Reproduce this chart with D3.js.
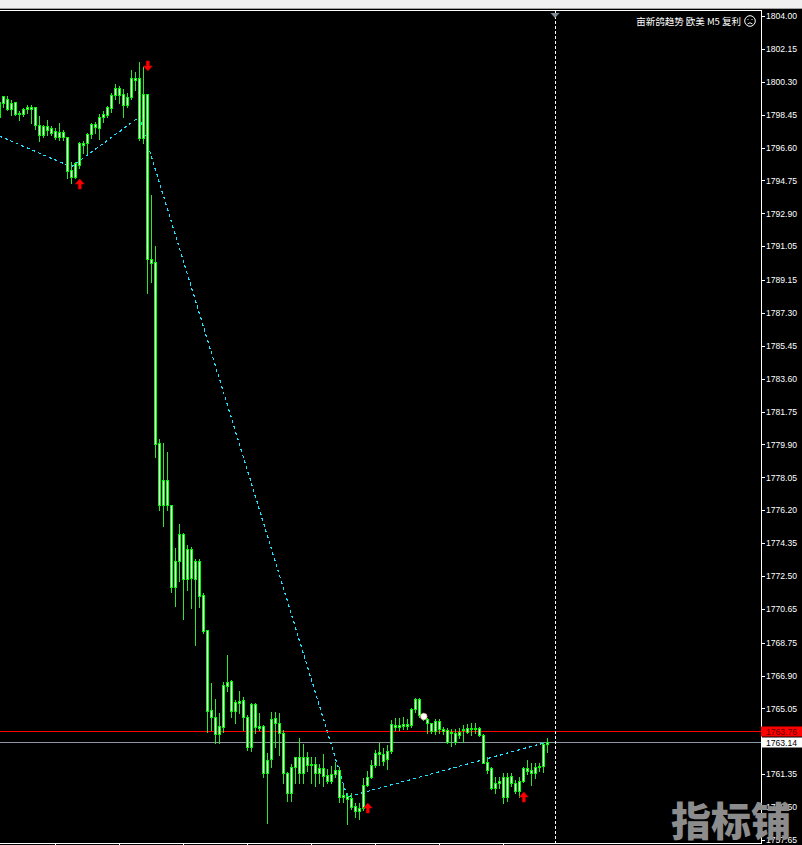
<!DOCTYPE html>
<html><head><meta charset="utf-8">
<script src="https://cdn.jsdelivr.net/npm/d3@7"></script>
<style>html,body{margin:0;padding:0;background:#000;overflow:hidden}</style>
</head><body>
<svg id="chart" width="802" height="845"></svg>
<script>
// ---- data (EURUSD M5 candles) ----
const opens = [1798.32,1799.11,1799.33,1798.77,1799.16,1798.49,1798.49,1798.77,1798.88,1798.88,
1797.87,1797.31,1797.81,1797.70,1797.53,1797.19,1797.48,1797.19,1795.34,1794.94,
1795.62,1796.86,1796.86,1797.36,1797.93,1797.70,1798.32,1798.43,1798.83,1799.56,
1799.95,1799.61,1798.99,1799.44,1800.51,1800.51,1797.14,1799.61,1790.33,1790.16,
1779.98,1776.49,1777.90,1776.49,1771.88,1773.34,1774.86,1772.33,1774.02,1772.33,
1773.34,1771.43,1769.46,1764.96,1764.57,1763.61,1764.01,1766.31,1766.59,1764.91,
1765.36,1765.53,1764.57,1762.88,1765.30,1763.95,1764.06,1761.42,1762.21,1764.51,
1764.23,1763.67,1761.42,1760.29,1761.76,1762.32,1761.42,1762.32,1761.87,1761.93,
1761.42,1761.70,1761.31,1760.97,1761.36,1761.59,1760.07,1760.13,1760.01,1759.56,
1759.28,1759.45,1760.74,1761.19,1761.87,1762.49,1762.49,1762.21,1762.66,1764.12,
1764.01,1764.06,1764.18,1764.12,1765.02,1765.58,1764.68,1764.46,1764.23,1763.78,
1764.34,1763.89,1763.84,1763.67,1763.67,1763.56,1763.84,1763.73,1763.95,1763.89,
1763.95,1763.56,1762.04,1761.70,1760.58,1760.86,1761.19,1760.07,1761.25,1760.86,
1760.41,1760.97,1761.70,1761.59,1761.42,1761.76,1761.81,1763.05];
const highs = [1799.44,1799.50,1799.50,1799.28,1799.16,1798.66,1798.83,1798.99,1798.99,1798.88,
1798.38,1797.87,1798.15,1797.81,1797.70,1797.98,1797.59,1797.19,1795.79,1795.79,
1796.91,1796.97,1797.42,1797.98,1798.04,1798.49,1798.66,1798.94,1799.67,1800.18,
1800.06,1799.89,1799.67,1800.96,1800.85,1801.41,1801.13,1799.61,1793.93,1791.06,
1780.21,1779.98,1779.48,1776.49,1774.08,1775.43,1774.92,1774.24,1774.13,1773.46,
1773.46,1771.54,1769.46,1766.48,1765.58,1764.79,1766.54,1768.06,1766.65,1765.53,
1766.03,1765.69,1764.68,1765.36,1765.36,1764.79,1764.12,1762.54,1764.85,1764.85,
1764.79,1763.84,1761.48,1761.93,1762.32,1763.39,1763.05,1762.60,1762.32,1762.32,
1761.93,1762.49,1761.64,1761.81,1762.04,1761.76,1760.74,1760.29,1760.29,1759.73,
1759.73,1761.14,1761.53,1762.15,1762.71,1763.11,1762.83,1762.99,1764.40,1764.51,
1764.51,1764.57,1764.46,1765.08,1765.64,1765.64,1764.79,1764.51,1764.23,1764.46,
1764.46,1764.01,1763.95,1763.89,1763.89,1763.95,1764.12,1764.18,1764.23,1764.23,
1764.01,1763.61,1762.32,1761.76,1761.19,1761.19,1761.42,1761.42,1761.42,1761.03,
1761.19,1761.76,1762.15,1761.98,1761.98,1761.98,1763.16,1763.39];
const lows = [1798.26,1798.88,1798.71,1798.43,1798.43,1798.15,1798.38,1798.54,1797.98,1797.64,
1796.97,1797.19,1797.31,1797.31,1797.08,1797.03,1797.03,1794.89,1794.61,1794.89,
1795.45,1796.29,1796.29,1797.14,1797.42,1797.08,1798.04,1798.32,1798.60,1799.33,
1799.11,1798.32,1798.88,1799.33,1799.84,1797.03,1796.86,1788.42,1789.04,1779.19,
1776.21,1775.31,1776.21,1771.60,1770.81,1772.22,1770.08,1771.71,1770.70,1768.62,
1770.76,1769.29,1763.73,1763.84,1763.11,1763.11,1763.73,1766.03,1764.57,1764.23,
1764.79,1763.84,1762.71,1762.66,1763.67,1763.84,1761.19,1758.61,1761.76,1762.88,
1762.43,1760.86,1759.84,1759.84,1760.86,1760.86,1760.86,1761.53,1760.86,1760.69,
1760.86,1760.69,1760.86,1760.86,1761.19,1759.79,1759.79,1758.55,1759.39,1758.94,
1758.83,1759.34,1760.69,1761.14,1761.76,1761.87,1761.87,1761.64,1762.54,1763.84,
1763.84,1763.89,1763.89,1764.01,1764.85,1764.57,1764.40,1763.67,1763.67,1763.61,
1763.67,1763.61,1763.11,1762.94,1763.05,1763.39,1763.16,1763.67,1763.56,1763.67,
1763.50,1761.98,1761.42,1760.52,1760.29,1760.58,1759.73,1759.84,1760.69,1760.29,
1760.07,1760.91,1761.36,1760.74,1761.14,1761.53,1761.48,1762.60];
const closes = [1799.16,1799.50,1798.77,1799.11,1798.49,1798.54,1798.77,1798.88,1798.77,1797.87,
1797.31,1797.81,1797.59,1797.42,1797.19,1797.48,1797.19,1795.28,1794.94,1795.73,
1796.86,1796.74,1797.36,1797.93,1797.76,1798.32,1798.49,1798.88,1799.56,1799.95,
1799.56,1798.99,1799.44,1800.51,1800.40,1797.14,1799.61,1790.33,1790.11,1779.93,
1776.49,1777.90,1776.49,1771.88,1773.34,1774.86,1772.33,1774.02,1772.39,1773.34,
1771.38,1769.41,1764.91,1764.57,1763.61,1764.06,1766.37,1766.54,1764.91,1765.41,
1765.47,1764.57,1762.88,1765.30,1764.01,1764.06,1761.42,1762.15,1764.46,1764.23,
1763.67,1761.42,1760.29,1761.76,1762.32,1761.42,1762.32,1761.87,1761.93,1761.42,
1761.70,1761.25,1760.97,1761.36,1761.59,1760.07,1760.18,1759.96,1759.51,1759.28,
1759.45,1760.74,1761.19,1761.87,1762.54,1762.60,1762.09,1762.66,1764.18,1764.01,
1764.12,1764.18,1764.06,1765.02,1765.58,1764.68,1764.46,1764.23,1763.78,1764.34,
1763.89,1763.78,1763.16,1763.73,1763.16,1763.73,1763.89,1763.95,1763.89,1763.95,
1763.56,1761.98,1761.59,1760.58,1760.86,1760.97,1760.07,1761.19,1760.86,1760.41,
1760.97,1761.70,1761.53,1761.42,1761.76,1761.81,1763.05,1763.14];

const yTickValues = [1804.00,1802.15,1800.30,1798.45,1796.60,1794.75,1792.90,1791.05,1789.15,1787.30,
1785.45,1783.60,1781.75,1779.90,1778.05,1776.20,1774.35,1772.50,1770.65,1768.75,1766.90,1765.05,
1761.35,1759.50,1757.65];
const yTickLabels = ["1804.00","1802.15","1800.30","1798.45","1796.60","1794.75","1792.90","1791.05","1789.15","1787.30",
"1785.45","1783.60","1781.75","1779.90","1778.05","1776.20","1774.35","1772.50","1770.65","1768.75","1766.90","1765.05",
"1761.35","1759.50","1757.65"];
const xTickBars = [14,30,46,62,78,94,110,126];
const askPrice = 1763.76, bidPrice = 1763.14;
const zigzagBars = [0,18,35,87,137];
const zigzagPrices = [1797.25,1795.51,1798.32,1760.07,1763.16];
const upArrowBars = [20,92,131];
const upArrowPrices = [1794.83,1759.73,1760.35];
const downArrowBars = [37];
const downArrowPrices = [1800.91];
const dotBars = [106];
const dotPrices = [1764.60];
const shiftBar = 139;
const titleText = "亩新鸽趋势 欧美 M5 复利";
const watermarkText = "指标铺";

// ---- drawing ----
const W = 802, H = 845;
const plotRight = 761, plotTop = 10, plotBottom = 843;
const svg = d3.select("#chart");
const x = d3.scaleLinear().domain([0, 1]).range([-0.7, 3.3]);
const y = d3.scaleLinear().domain([1757.65, 1804.00]).range([840, 16]);
const px = v => Math.round(x(v));
const py = v => Math.round(y(v));

svg.append("rect").attr("width", W).attr("height", H).attr("fill", "#000");
svg.append("rect").attr("x",0).attr("y",0).attr("width",W).attr("height",8).attr("fill","#f0f0f0");
svg.append("rect").attr("x",0).attr("y",8).attr("width",W).attr("height",1).attr("fill","#a0a0a0");

const plot = svg.append("g").attr("shape-rendering","crispEdges");
plot.append("defs").append("clipPath").attr("id","clip")
  .append("rect").attr("x",0).attr("y",plotTop+1).attr("width",plotRight).attr("height",plotBottom-plotTop-1);
const inner = plot.append("g").attr("clip-path","url(#clip)");

// zigzag dotted line
const zz = zigzagBars.map((b,i)=>[b, zigzagPrices[i]]);
inner.append("path")
  .attr("d", d3.line().x(d=>x(d[0])).y(d=>y(d[1]))(zz))
  .attr("fill","none").attr("stroke","#22e0ff").attr("stroke-width",1.2)
  .attr("stroke-dasharray","3,3").attr("shape-rendering","crispEdges");

// ask / bid lines
inner.append("line").attr("x1",0).attr("x2",plotRight).attr("y1",py(askPrice)+0.5).attr("y2",py(askPrice)+0.5)
  .attr("stroke","#ff0000");
inner.append("line").attr("x1",0).attr("x2",plotRight).attr("y1",py(bidPrice)+0.5).attr("y2",py(bidPrice)+0.5)
  .attr("stroke","#8a96a4");

// shift line
inner.append("line").attr("x1",px(shiftBar)+0.5).attr("x2",px(shiftBar)+0.5).attr("y1",plotTop+1).attr("y2",plotBottom)
  .attr("stroke","#ffffff").attr("stroke-dasharray","3,2");

// candles
const bars = d3.range(opens.length).map(i=>({i,o:opens[i],h:highs[i],l:lows[i],c:closes[i]}));
const cg = inner.selectAll("g.c").data(bars).join("g").attr("class","c");
cg.append("rect").attr("x",d=>px(d.i)).attr("width",1)
  .attr("y",d=>py(d.h)).attr("height",d=>Math.max(1,py(d.l)-py(d.h)+1)).attr("fill","#2ee62e");
cg.append("rect").attr("x",d=>px(d.i)-1).attr("width",3)
  .attr("y",d=>py(Math.max(d.o,d.c))).attr("height",d=>Math.max(1,py(Math.min(d.o,d.c))-py(Math.max(d.o,d.c))+1))
  .attr("fill","#00ff00");
cg.filter(d=>py(Math.min(d.o,d.c))-py(Math.max(d.o,d.c))>=2)
  .append("rect").attr("x",d=>px(d.i)).attr("width",1)
  .attr("y",d=>py(Math.max(d.o,d.c))+1).attr("height",d=>py(Math.min(d.o,d.c))-py(Math.max(d.o,d.c))-1)
  .attr("fill","#ffffff");

// dot marker
inner.selectAll("circle.dot").data(dotBars).join("circle").attr("class","dot")
  .attr("cx",(d)=>x(d)+0.5).attr("cy",(d,i)=>y(dotPrices[i]))
  .attr("r",3.3).attr("fill","#ffffff").attr("stroke","#e0a080").attr("stroke-width",0.6)
  .attr("shape-rendering","auto");

// arrows
const upPath = "M0,0 L4.5,5 L1.5,5 L1.5,10 L-1.5,10 L-1.5,5 L-4.5,5 Z";
const downPath = "M0,0 L4.5,-5 L1.5,-5 L1.5,-10 L-1.5,-10 L-1.5,-5 L-4.5,-5 Z";
inner.selectAll("path.up").data(upArrowBars).join("path").attr("class","up")
  .attr("transform",(d,i)=>`translate(${x(d)+0.5},${y(upArrowPrices[i])})`)
  .attr("d",upPath).attr("fill","#ff0000").attr("stroke","#c80000").attr("stroke-width",0.6)
  .attr("shape-rendering","auto");
inner.selectAll("path.down").data(downArrowBars).join("path").attr("class","down")
  .attr("transform",(d,i)=>`translate(${x(d)+0.5},${y(downArrowPrices[i])})`)
  .attr("d",downPath).attr("fill","#ff0000").attr("stroke","#c80000").attr("stroke-width",0.6)
  .attr("shape-rendering","auto");

// shift triangle
svg.append("path")
  .attr("d",`M${px(shiftBar)-4.5},13 L${px(shiftBar)+4.5},13 L${px(shiftBar)},18 Z`)
  .attr("fill","#7d8a96");

// frame
plot.append("line").attr("x1",0).attr("x2",plotRight+0.5).attr("y1",plotTop+0.5).attr("y2",plotTop+0.5).attr("stroke","#fff");
plot.append("line").attr("x1",plotRight+0.5).attr("x2",plotRight+0.5).attr("y1",plotTop).attr("y2",plotBottom+0.5).attr("stroke","#fff");
plot.append("line").attr("x1",0).attr("x2",plotRight+0.5).attr("y1",plotBottom+0.5).attr("y2",plotBottom+0.5).attr("stroke","#fff");

// x ticks
plot.selectAll("line.xt").data(xTickBars).join("line").attr("class","xt")
  .attr("x1",d=>px(d)+0.5).attr("x2",d=>px(d)+0.5).attr("y1",plotBottom).attr("y2",H)
  .attr("stroke","#fff");

// y axis ticks & labels
const yAxis = svg.append("g").attr("shape-rendering","crispEdges");
yAxis.selectAll("line").data(yTickValues).join("line")
  .attr("x1",plotRight).attr("x2",plotRight+4).attr("y1",d=>py(d)+0.5).attr("y2",d=>py(d)+0.5).attr("stroke","#fff");
yAxis.selectAll("text").data(yTickValues).join("text")
  .attr("x",766).attr("y",d=>y(d)+3.2)
  .attr("font-family","Liberation Sans, Arial, sans-serif").attr("font-size","8.6px").attr("fill","#fff")
  .text((d,i)=>yTickLabels[i]);

// ask / bid labels
svg.append("rect").attr("x",plotRight).attr("y",py(askPrice)-4.5).attr("width",W-plotRight).attr("height",10).attr("fill","#ff0000");
svg.append("text").attr("x",766).attr("y",y(askPrice)+3.3)
  .attr("font-family","Liberation Sans, Arial, sans-serif").attr("font-size","8.6px").attr("fill","#5a0000")
  .text(askPrice.toFixed(2));
svg.append("rect").attr("x",plotRight+1).attr("y",py(bidPrice)-4.5).attr("width",W-plotRight-1).attr("height",10).attr("fill","#ffffff");
svg.append("text").attr("x",766).attr("y",y(bidPrice)+3.3)
  .attr("font-family","Liberation Sans, Arial, sans-serif").attr("font-size","8.6px").attr("fill","#000")
  .text(bidPrice.toFixed(2));

// title text and sad face
svg.append("text").attr("x",741).attr("y",25).attr("text-anchor","end")
  .attr("font-family","Noto Sans CJK SC, sans-serif").attr("font-size","9.5px").attr("fill","#fff")
  .text(titleText);
const face = svg.append("g").attr("transform","translate(750,21)").attr("fill","none").attr("stroke","#fff");
face.append("circle").attr("r",5.3).attr("stroke-width",1);
face.append("circle").attr("cx",-2).attr("cy",-1.5).attr("r",0.6).attr("fill","#fff").attr("stroke","none");
face.append("circle").attr("cx",2).attr("cy",-1.5).attr("r",0.6).attr("fill","#fff").attr("stroke","none");
face.append("path").attr("d","M-2.5,3 Q0,0.5 2.5,3").attr("stroke-width",0.9);

// watermark
svg.append("text").attr("x",731).attr("y",836).attr("text-anchor","middle")
  .attr("font-family","Noto Sans CJK SC, sans-serif").attr("font-weight","900").attr("font-size","40px")
  .attr("fill","#8c8c8c").text(watermarkText);
</script>
</body></html>
